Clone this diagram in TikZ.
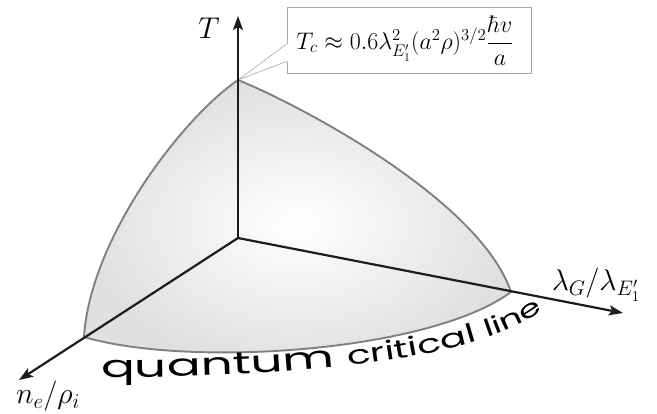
\RequirePackage{fix-cm}
\documentclass[tikz,border=0pt]{standalone}
\usepackage{amsmath}
\usepackage{fontspec}
\usetikzlibrary{arrows.meta,decorations.text,calc}
\newfontfamily\qfontA{Poppins}[FakeStretch=1.62]
\newfontfamily\qfontB{Poppins}[FakeStretch=1.5]
\definecolor{axiscol}{HTML}{1C1C1C}
\definecolor{rimcol}{HTML}{808083}
\definecolor{domecol}{HTML}{E0E0E3}
\definecolor{boxcol}{HTML}{A8A8A8}
\begin{document}
\begin{tikzpicture}[x=1pt,y=-1pt,
  axis/.style={line width=2.2pt, draw=axiscol, -{Stealth[length=14pt,width=10pt,inset=3pt]}},
  rim/.style={line width=1.9pt, draw=rimcol},
  lbl/.style={inner sep=0pt, font=\fontsize{30}{36}\selectfont},
  boxstyle/.style={draw=boxcol, line width=0.8pt, fill=white, minimum width=244pt, minimum height=66pt, inner sep=0pt},
  wedge/.style={draw=boxcol, line width=0.6pt},
]
\useasboundingbox (0,0) rectangle (657,413);
\coordinate (O) at (238,238);
\coordinate (top) at (238,80);
\coordinate (L) at (84,337);
\coordinate (R) at (511,292);
\coordinate (Tend) at (238,16);
\coordinate (Rend) at (623,313);
\coordinate (Lend) at (19,380);
% dome
\shade[inner color=white, middle color=white, outer color=domecol]
  (top) .. controls (180,120) and (90,240) .. (L)
        .. controls (190,368) and (430,352) .. (R)
        .. controls (480,200) and (300,105) .. (top) -- cycle;
\draw[rim]
  (top) .. controls (180,120) and (90,240) .. (L)
        .. controls (190,368) and (430,352) .. (R)
        .. controls (480,200) and (300,105) .. (top) -- cycle;
% formula box
\node[boxstyle] (box) at (409,40) {};
\node[inner sep=0pt, font=\fontsize{24}{29}\selectfont] (f) at (405,41)
  {$T_c \approx 0.6\lambda^2_{E'_1}(a^2\rho)^{3/2}\dfrac{\hbar v}{a}$};
\coordinate (w1) at ($(box.north west)!0.56!(box.south west)$);
\coordinate (w2) at ($(box.north west)!0.82!(box.south west)$);
\fill[white] (top) -- (w1) -- ($(w1)+(1.5,0)$) -- ($(w2)+(1.5,0)$) -- (w2) -- cycle;
\draw[wedge] (w1) -- (top) -- (w2);
% axes
\draw[axis] (O) -- (Tend);
\draw[axis] (O) -- (Rend);
\draw[axis] (O) -- (Lend);
% labels
\node[lbl] (Tl) at (209,28) {$T$};
\node[lbl] (Rl) at (596,285) {$\lambda_G/\lambda_{E'_1}$};
\node[lbl] (Ll) at (48,396) {$n_e/\rho_i$};
% curved text
\path[decorate, decoration={text along path,
  text={|\qfontA\fontsize{31}{36}\selectfont|quantum |\qfontB\fontsize{26}{31}\selectfont|critical |\qfontB\fontsize{24}{28}\selectfont|line},
  text align={left}}]
  (101,377) .. controls (260,378) and (472,366) .. (543,310);
\end{tikzpicture}
\end{document}
